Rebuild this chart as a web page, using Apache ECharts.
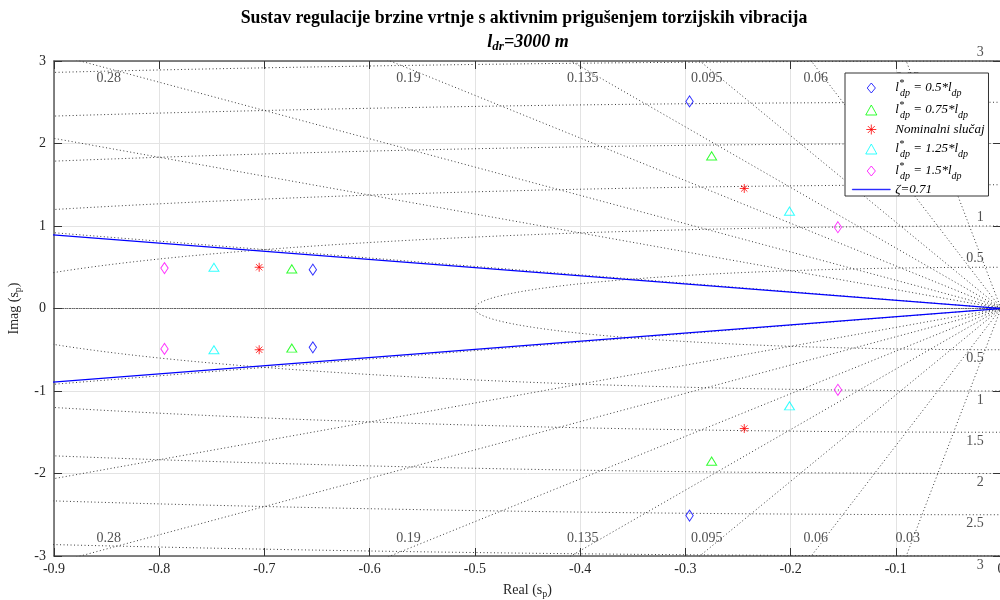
<!DOCTYPE html>
<html><head><meta charset="utf-8">
<script src="https://cdn.jsdelivr.net/npm/echarts@6/dist/echarts.min.js"></script>
<style>html,body{margin:0;padding:0;background:#fff}#c{width:1000px;height:600px}</style>
</head><body><div id="c"></div>
<script>
const FONT = '"Liberation Serif", "Times New Roman", serif';

// ---- s-plane grid (sgrid) parameters ----
const zetaGrid = [0.03, 0.06, 0.095, 0.135, 0.19, 0.28, 0.4, 0.7, 1];
const wnGrid = [0.5, 1, 1.5, 2, 2.5, 3];
const zetaLabelValues = [0.28, 0.19, 0.135, 0.095, 0.06, 0.03];
const zetaRef = 0.71;

// ---- axis ticks ----
const xTickMin = -0.9, xTickMax = 0, xTickStep = 0.1;
const yTickMin = -3, yTickMax = 3, yTickStep = 1;

// ---- closed-loop poles (real, imag) ----
const poles05  = [[-0.296, 2.51], [-0.296, -2.51], [-0.654, 0.47], [-0.654, -0.47]];
const poles075 = [[-0.275, 1.85], [-0.275, -1.85], [-0.674, 0.48], [-0.674, -0.48]];
const polesNom = [[-0.244, 1.455], [-0.244, -1.455], [-0.705, 0.50], [-0.705, -0.50]];
const poles125 = [[-0.201, 1.18], [-0.201, -1.18], [-0.748, 0.50], [-0.748, -0.50]];
const poles15  = [[-0.155, 0.985], [-0.155, -0.985], [-0.795, 0.49], [-0.795, -0.49]];

// ---- layout of grid annotations (not data) ----
const zetaLabelAnchorX = [-0.848, -0.563, -0.3975, -0.2796, -0.176, -0.0886];
const wnLabelAnchorX = -0.0163;

const legendText = {
  'l05':  '{i|l}{sup|*}{sub|dp}{i| = 0.5*l}{sub2|dp}',
  'l075': '{i|l}{sup|*}{sub|dp}{i| = 0.75*l}{sub2|dp}',
  'nom':  '{i|Nominalni slučaj}',
  'l125': '{i|l}{sup|*}{sub|dp}{i| = 1.25*l}{sub2|dp}',
  'l15':  '{i|l}{sup|*}{sub|dp}{i| = 1.5*l}{sub2|dp}',
  'zeta': '{i|ζ=0.71}'
};

function rayPts(z) { const r = 10, s = Math.sqrt(1 - z * z); return [[-r * z, r * s], [0, 0], [-r * z, -r * s]]; }
function circPts(w) { const p = []; for (let k = 0; k <= 360; k++) { const t = Math.PI / 2 + Math.PI * k / 360; p.push([w * Math.cos(t), w * Math.sin(t)]); } return p; }

const gridLineStyle = { color: '#3a3a3a', width: 1, type: [1, 2.5] };
const series = [];
zetaGrid.forEach(z => series.push({ type: 'line', data: rayPts(z), symbol: 'none', silent: true, z: 1, lineStyle: gridLineStyle, clip: true }));
wnGrid.forEach(w => series.push({ type: 'line', data: circPts(w), symbol: 'none', silent: true, z: 1, lineStyle: gridLineStyle, clip: true }));

series.push({ name: 'zeta', type: 'line', data: rayPts(zetaRef), symbol: 'none', showSymbol: false, silent: true, z: 3, clip: true,
  lineStyle: { color: '#0000ff', width: 1.2 }, itemStyle: { color: '#0000ff', borderColor: '#0000ff' } });

const asterisk = 'path://M0,-5L0,5M-5,0L5,0M-3.5,-3.5L3.5,3.5M-3.5,3.5L3.5,-3.5';
const diamondPath = 'path://M0,-5.5L4.5,0L0,5.5L-4.5,0Z';
const trianglePath = 'path://M0,-4.5L5,4.5L-5,4.5Z';
const linePath = 'path://M0,0L38,0L38,0.6L0,0.6Z';
function marker(name, data, symbol, size, color) {
  return { name, type: 'scatter', data, symbol, symbolSize: size, symbolKeepAspect: true, silent: true, z: 4,
    itemStyle: { color: 'none', borderColor: color, borderWidth: 1 } };
}
series.push(marker('l05', poles05, diamondPath, [9, 11], '#0000ff'));
series.push(marker('l075', poles075, trianglePath, [10, 9], '#00ff00'));
series.push(marker('nom', polesNom, asterisk, 9, '#ff0000'));
series.push(marker('l125', poles125, trianglePath, [10, 9], '#00ffff'));
series.push(marker('l15', poles15, diamondPath, [9, 11], '#ff00ff'));

// grid annotation labels
const labelStyle = { show: true, position: 'inside', fontFamily: FONT, fontSize: 14, color: '#262626' };
const zetaLblData = [];
zetaLabelValues.forEach((z, i) => {
  zetaLblData.push({ value: [zetaLabelAnchorX[i], yTickMax], label: { formatter: String(z), offset: [0, 17] } });
  zetaLblData.push({ value: [zetaLabelAnchorX[i], yTickMin], label: { formatter: String(z), offset: [0, -18] } });
});
wnGrid.forEach(w => {
  zetaLblData.push({ value: [wnLabelAnchorX, w], label: { formatter: String(w), offset: [0, -9], align: 'right' } });
  zetaLblData.push({ value: [wnLabelAnchorX, -w], label: { formatter: String(w), offset: [0, 9], align: 'right' } });
});
series.push({ type: 'scatter', data: zetaLblData, symbol: 'circle', symbolSize: 1, silent: true, clip: false, z: 2,
  itemStyle: { color: 'rgba(0,0,0,0)' }, label: labelStyle });

const axisLabel = { fontFamily: FONT, fontSize: 14, color: '#262626' };
const axisLine = { show: true, onZero: false, lineStyle: { color: '#5a5a5a', width: 1.5 } };
const tick = { show: true, inside: true, length: 8, lineStyle: { color: '#333', width: 1 } };
const split = { show: true, lineStyle: { color: '#e3e3e3', width: 1 } };
const nameRich = { n: { fontFamily: FONT, fontSize: 14, color: '#262626', lineHeight: 18 },
                   s: { fontFamily: FONT, fontSize: 10, color: '#262626', lineHeight: 10, verticalAlign: 'bottom' } };

const chart = echarts.init(document.getElementById('c'), null, { renderer: 'canvas' });
chart.setOption({
  animation: false,
  backgroundColor: '#fff',
  grid: { left: 54, right: -1, top: 61, bottom: 44, containLabel: false, outerBoundsMode: 'none' },
  xAxis: [
    { type: 'value', min: xTickMin, max: xTickMax, interval: xTickStep, position: 'bottom',
      axisLine, axisTick: tick, splitLine: split,
      axisLabel: Object.assign({ margin: 6, showMinLabel: true, showMaxLabel: true }, axisLabel),
      name: '{n|Real (s}{s|p}{n|)}', nameLocation: 'middle', nameGap: 25, nameTextStyle: { rich: nameRich } },
    { type: 'value', min: xTickMin, max: xTickMax, interval: xTickStep, position: 'top',
      axisLine, axisTick: tick, splitLine: { show: false }, axisLabel: { show: false } }
  ],
  yAxis: [
    { type: 'value', min: yTickMin, max: yTickMax, interval: yTickStep, position: 'left',
      axisLine, axisTick: tick, splitLine: split,
      axisLabel: Object.assign({ margin: 8 }, axisLabel),
      name: '{n|Imag (s}{s|p}{n|)}', nameLocation: 'middle', nameGap: 27, nameRotate: 90, nameTextStyle: { rich: nameRich } },
    { type: 'value', min: yTickMin, max: yTickMax, interval: yTickStep, position: 'right',
      axisLine, axisTick: tick, splitLine: { show: false }, axisLabel: { show: false } }
  ],
  legend: {
    data: [
      { name: 'l05', icon: diamondPath }, { name: 'l075', icon: trianglePath }, { name: 'nom', icon: asterisk },
      { name: 'l125', icon: trianglePath }, { name: 'l15', icon: diamondPath },
      { name: 'zeta', icon: linePath, itemStyle: { color: '#0000ff', borderColor: '#0000ff', borderWidth: 0.6 } }
    ],
    orient: 'vertical', left: 845, top: 73, padding: [5, 4, 0, 7],
    itemWidth: 38, itemHeight: 10, itemGap: 2, symbolKeepAspect: true,
    backgroundColor: '#fff', borderColor: '#333', borderWidth: 1, borderRadius: 0,
    selectedMode: false, z: 10,
    itemStyle: { borderWidth: 1 },
    formatter: n => legendText[n],
    textStyle: { fontFamily: FONT, fontSize: 13, color: '#000', rich: {
      i: { fontFamily: FONT, fontStyle: 'italic', fontSize: 13, lineHeight: 20, color: '#000' },
      sup: { fontFamily: FONT, fontStyle: 'italic', fontSize: 10, lineHeight: 12, verticalAlign: 'top', color: '#000', width: 1 },
      sub: { fontFamily: FONT, fontStyle: 'italic', fontSize: 10, lineHeight: 12, verticalAlign: 'bottom', color: '#000' },
      sub2: { fontFamily: FONT, fontStyle: 'italic', fontSize: 10, lineHeight: 12, verticalAlign: 'bottom', color: '#000' }
    } }
  },
  graphic: [
    { type: 'text', x: 524, y: 18, silent: true,
      style: { text: 'Sustav regulacije brzine vrtnje s aktivnim prigušenjem torzijskih vibracija',
               font: 'bold 17.8px "Liberation Serif"', fill: '#000', align: 'center', verticalAlign: 'middle' } },
    { type: 'text', x: 528, y: 42, silent: true,
      style: { text: '{a|l}{b|dr}{a|=3000 m}', align: 'center', verticalAlign: 'middle',
               rich: { a: { fontFamily: FONT, fontWeight: 'bold', fontStyle: 'italic', fontSize: 18, lineHeight: 22, color: '#000' },
                       b: { fontFamily: FONT, fontWeight: 'bold', fontStyle: 'italic', fontSize: 13, lineHeight: 10, verticalAlign: 'bottom', color: '#000' } } } }
  ],
  series
});
</script></body></html>
